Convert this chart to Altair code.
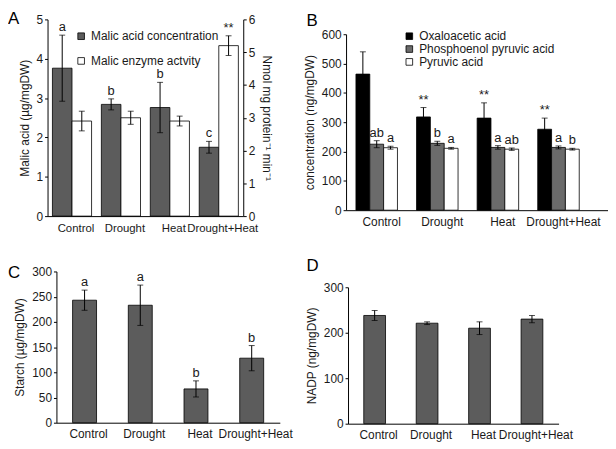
import altair as alt
import pandas as pd

cats = ["Control", "Drought", "Heat", "Drought+Heat"]
panel_letters = ["A", "B", "C", "D"]

# Panel A
malic_conc = [3.76, 2.84, 2.76, 1.75]
malic_conc_err = [0.84, 0.14, 0.64, 0.15]
malic_conc_lbl = ["a", "b", "b", "c"]
malic_enz = [2.9, 3.0, 2.9, 5.2]
malic_enz_err = [0.3, 0.2, 0.15, 0.3]
malic_enz_lbl = ["", "", "", "**"]
a_series = ["Malic acid concentration", "Malic enzyme actvity"]

# Panel B
oaa = [464, 318, 314, 276]
oaa_err = [76, 32, 52, 38]
oaa_lbl = ["", "**", "**", "**"]
pep = [225, 228, 214, 214]
pep_err = [12, 7, 6, 5]
pep_lbl = ["ab", "b", "a", "a"]
pyr = [213, 211, 208, 208]
pyr_err = [5, 3, 4, 3]
pyr_lbl = ["a", "a", "ab", "b"]
b_series = ["Oxaloacetic acid", "Phosphoenol pyruvic acid", "Pyruvic acid"]

# Panel C
starch = [243, 233, 67, 128]
starch_err = [20, 40, 16, 25]
starch_lbl = ["a", "a", "b", "b"]

# Panel D
nadp = [238, 221, 210, 230]
nadp_err = [11, 3, 14, 8]

FONT = "Liberation Sans"
TXT = "#1a1a1a"
DARK = "#5c5c5c"


def frame(vals, errs, lbls, series):
    return pd.DataFrame({
        "cat": cats,
        "series": [series] * len(cats),
        "val": vals,
        "lo": [v - e for v, e in zip(vals, errs)],
        "hi": [v + e for v, e in zip(vals, errs)],
        "lbl": lbls,
    })


def xenc(pi, po, loff, align=0.5, xrange=None, lsize=12, lpad=6):
    sc = dict(paddingInner=pi, paddingOuter=po, align=align)
    if xrange is not None:
        sc["range"] = xrange
    return alt.X("cat:N", sort=cats, scale=alt.Scale(**sc),
                 axis=alt.Axis(title=None, labelAngle=0, ticks=False, labelPadding=lpad,
                               labelOffset=loff, labelFontSize=lsize))


def panel_layers(df, x, yaxis, ydom, yrange, color=None, xoff=None, bar_fill=None):
    def Y(field):
        return alt.Y(field, type="quantitative",
                     scale=alt.Scale(domain=ydom, nice=False, zero=True, range=yrange),
                     axis=yaxis)
    enc_common = {"x": x}
    if xoff is not None:
        enc_common["xOffset"] = xoff
    if bar_fill is None:
        bars = alt.Chart(df).mark_bar(stroke="black", strokeWidth=0.8).encode(
            y=Y("val"), color=color, **enc_common)
    else:
        bars = alt.Chart(df).mark_bar(stroke="black", strokeWidth=0.8, color=bar_fill).encode(
            y=Y("val"), **enc_common)
    rule = alt.Chart(df).mark_rule(color="black", strokeWidth=1).encode(
        y=Y("lo"), y2="hi", **enc_common)
    cap_hi = alt.Chart(df).mark_tick(color="black", size=6, thickness=1).encode(
        y=Y("hi"), **enc_common)
    cap_lo = alt.Chart(df).mark_tick(color="black", size=6, thickness=1).encode(
        y=Y("lo"), **enc_common)
    txt = alt.Chart(df).mark_text(dy=-8, fontSize=13, font=FONT, color=TXT).encode(
        y=Y("hi"), text="lbl:N", **enc_common)
    return alt.layer(bars, rule, cap_hi, cap_lo, txt)


def letter(i, ypos):
    df = pd.DataFrame({"t": [panel_letters[i]]})
    return alt.Chart(df).mark_text(align="left", baseline="alphabetic", fontSize=17,
                                   font=FONT, color="black").encode(
        x=alt.value(-40), y=alt.value(ypos), text="t:N")


# ---------- Panel A ----------
dfa1 = frame(malic_conc, malic_conc_err, malic_conc_lbl, a_series[0])
dfa2 = frame(malic_enz, malic_enz_err, malic_enz_lbl, a_series[1])
colA = alt.Color("series:N", scale=alt.Scale(domain=a_series, range=[DARK, "white"]),
                 legend=alt.Legend(orient="none", legendX=28, legendY=20, title=None,
                                   symbolType="square", symbolSize=45, symbolStrokeColor="black",
                                   symbolStrokeWidth=0.8, labelFont=FONT, labelFontSize=12,
                                   labelColor=TXT, rowPadding=13, labelOffset=4))
xoffA = alt.XOffset("series:N", scale=alt.Scale(domain=a_series))
xA = xenc(0.2, 0.1, 4, lsize=11.5, lpad=7)
axA_left = alt.Axis(title="Malic acid (µg/mgDW)", values=[0, 1, 2, 3, 4, 5], orient="left")
axA_right = alt.Axis(title="Nmol mg protein⁻¹ min⁻¹", values=[0, 1, 2, 3, 4, 5, 6], orient="right",
                     titleAngle=90)
leftA = panel_layers(dfa1, xA, axA_left, [0, 5], [208, 9], color=colA, xoff=xoffA)
rightA = panel_layers(dfa2, xA, axA_right, [0, 6], [208, 9], color=colA, xoff=xoffA)
A = alt.layer(leftA, rightA, letter(0, 14)).resolve_scale(y="independent").properties(
    width=198, height=208)

# ---------- Panel B ----------
dfb = pd.concat([
    frame(oaa, oaa_err, oaa_lbl, b_series[0]),
    frame(pep, pep_err, pep_lbl, b_series[1]),
    frame(pyr, pyr_err, pyr_lbl, b_series[2]),
])
colB = alt.Color("series:N", scale=alt.Scale(domain=b_series, range=["black", "#6b6b6b", "white"]),
                 legend=alt.Legend(orient="none", legendX=58, legendY=20, title=None,
                                   symbolType="square", symbolSize=45, symbolStrokeColor="black",
                                   symbolStrokeWidth=0.8, labelFont=FONT, labelFontSize=12,
                                   labelColor=TXT, rowPadding=1, labelOffset=4))
xoffB = alt.XOffset("series:N", scale=alt.Scale(domain=b_series))
axB = alt.Axis(title="concentration (ng/mgDW)", values=[0, 100, 200, 300, 400, 500, 600])
B = alt.layer(
    panel_layers(dfb, xenc(0.315, 0.319, 5, align=0.256), axB, [0, 600], [202, 24],
                 color=colB, xoff=xoffB),
    letter(1, 16),
).properties(width=265, height=202)

# ---------- Panel C ----------
dfc = frame(starch, starch_err, starch_lbl, "starch")
axC = alt.Axis(title="Starch (µg/mgDW)", values=[0, 50, 100, 150, 200, 250, 300], offset=-9)
C = alt.layer(
    panel_layers(dfc, xenc(0.57, 0.29, 4, xrange=[9, 235]), axC, [0, 300], [167, 14],
                 bar_fill=DARK),
    letter(2, 21),
).properties(width=235, height=167)

# ---------- Panel D ----------
dfd = frame(nadp, nadp_err, [""] * 4, "nadp")
axD = alt.Axis(title="NADP (ng/mgDW)", values=[0, 100, 200, 300], offset=-2)
D = alt.layer(
    panel_layers(dfd, xenc(0.585, 0.3, 4, xrange=[2, 215]), axD, [0, 300], [168, 30],
                 bar_fill=DARK),
    letter(3, 14),
).properties(width=215, height=168)

chart = alt.concat(
    A, B, C, D, columns=2, spacing={"row": 42, "column": 67}, bounds="flush", align="each"
).resolve_scale(
    color="independent", xOffset="independent"
).properties(
    padding={"left": 0, "top": 0, "right": 0, "bottom": 0}
).configure_view(stroke=None).configure_axis(
    labelFont=FONT, labelFontSize=12, labelColor=TXT,
    titleFont=FONT, titleFontSize=12, titleFontWeight="normal", titleColor=TXT,
    domainColor="black", tickColor="black", tickSize=3, labelPadding=2,
    grid=False, titlePadding=5
)

chart.save("out.html", embed_options={"renderer": "svg", "actions": False})
